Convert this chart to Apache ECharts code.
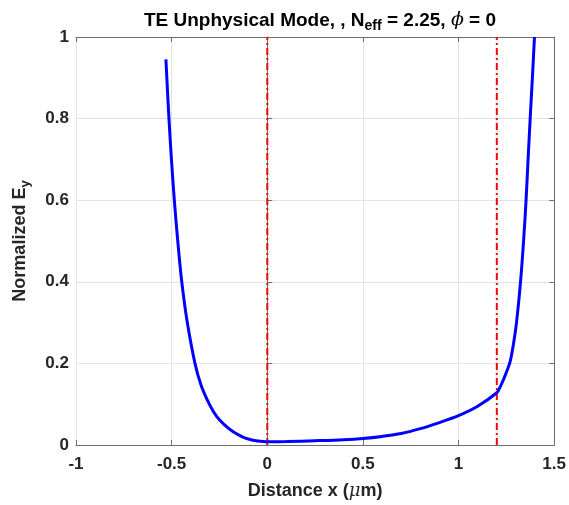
<!DOCTYPE html>
<html>
<head>
<meta charset="utf-8">
<script src="https://cdn.jsdelivr.net/npm/echarts@6/dist/echarts.min.js"></script>
<style>
  html, body { margin: 0; padding: 0; background: #fff; }
  #chart { width: 569px; height: 505px; }
</style>
</head>
<body>
<div id="chart"></div>
<script>
// field profile: x (um), normalized Ey
const xs = [
  -0.53, -0.514, -0.501, -0.486, -0.468, -0.447, -0.418, -0.378, -0.345, -0.303,
  -0.265, -0.225, -0.174, -0.13, -0.09, -0.05, -0.02, 0,
  0.1, 0.25, 0.4, 0.5, 0.6, 0.7, 0.8, 0.9, 1.0, 1.1, 1.2,
  1.215, 1.23, 1.25, 1.27, 1.288, 1.303, 1.324, 1.34, 1.353, 1.3635, 1.3745, 1.386, 1.397,
];
const ey = [
  0.945, 0.8, 0.7, 0.6, 0.5, 0.4, 0.3, 0.2, 0.145, 0.1,
  0.07, 0.05, 0.031, 0.02, 0.0135, 0.0100, 0.0085, 0.008,
  0.0085, 0.0105, 0.013, 0.016, 0.021, 0.028, 0.04, 0.055, 0.072, 0.095, 0.128,
  0.14, 0.155, 0.178, 0.205, 0.25, 0.3, 0.4, 0.5, 0.6, 0.7, 0.8, 0.9, 1.0,
];
// layer boundaries (red dash-dot markers)
const boundaries = [0, 1.2];

const xTicks = ['-1', '-0.5', '0', '0.5', '1', '1.5'];
const yTicks = ['0', '0.2', '0.4', '0.6', '0.8', '1'];

const FONT = '"Liberation Sans", Arial, Helvetica, sans-serif';
const TXT = '#262626';
const AXC = '#6e6e6e';

const chart = echarts.init(document.getElementById('chart'));

const curve = xs.map((x, i) => [x, ey[i]]);

const boxAxis = {
  axisLine: { show: true, onZero: false, lineStyle: { color: AXC, width: 1 } },
  axisTick: { show: true, inside: true, length: 5, lineStyle: { color: AXC } },
  axisLabel: { show: false },
  splitLine: { show: false },
};

chart.setOption({
  animation: false,
  title: {
    text: 'TE Unphysical Mode, , N{sub|eff} = 2.25, {phi|ϕ} = 0',
    left: 315,
    textAlign: 'center',
    top: 3,
    textStyle: {
      fontFamily: FONT,
      fontSize: 19,
      fontWeight: 'bold',
      color: '#000',
      rich: {
        sub: { fontFamily: FONT, fontSize: 14, fontWeight: 'bold', color: '#000', padding: [11, 0, 0, 0] },
        phi: { fontFamily: '"DejaVu Serif", serif', fontStyle: 'italic', fontWeight: 'normal', fontSize: 19, color: '#000' },
      },
    },
  },
  grid: { left: 76, right: 14, top: 37, bottom: 59 },
  xAxis: [
    {
      type: 'value',
      min: -1,
      max: 1.5,
      interval: 0.5,
      name: 'Distance x ({mu|μ}m)',
      nameLocation: 'middle',
      nameGap: 37,
      nameTextStyle: {
        fontFamily: FONT, fontSize: 18, fontWeight: 'bold', color: TXT,
        rich: { mu: { fontFamily: '"DejaVu Serif", serif', fontStyle: 'italic', fontWeight: 'normal', fontSize: 18, color: TXT } },
      },
      axisLine: { show: true, onZero: false, lineStyle: { color: AXC } },
      axisTick: { show: true, inside: true, length: 5, lineStyle: { color: AXC } },
      axisLabel: {
        fontFamily: FONT, fontSize: 17, fontWeight: 'bold', color: TXT, margin: 11,
        formatter: (v) => xTicks[Math.round((v + 1) / 0.5)],
      },
      splitLine: { show: true, lineStyle: { color: '#e3e3e3', width: 1 } },
    },
    Object.assign({ type: 'value', min: -1, max: 1.5, interval: 0.5, position: 'top' }, boxAxis),
  ],
  yAxis: [
    {
      type: 'value',
      min: 0,
      max: 1,
      interval: 0.2,
      name: 'Normalized E{sub|y}',
      nameLocation: 'middle',
      nameGap: 44,
      nameTextStyle: {
        fontFamily: FONT, fontSize: 18, fontWeight: 'bold', color: TXT,
        rich: { sub: { fontFamily: FONT, fontSize: 13, fontWeight: 'bold', color: TXT, padding: [11, 0, 0, 0] } },
      },
      axisLine: { show: true, lineStyle: { color: AXC } },
      axisTick: { show: true, inside: true, length: 5, lineStyle: { color: AXC } },
      axisLabel: {
        fontFamily: FONT, fontSize: 17, fontWeight: 'bold', color: TXT, margin: 7,
        formatter: (v) => yTicks[Math.round(v / 0.2)],
      },
      splitLine: { show: true, lineStyle: { color: '#e3e3e3', width: 1 } },
    },
    Object.assign({ type: 'value', min: 0, max: 1, interval: 0.2, position: 'right' }, boxAxis),
  ],
  series: [
    ...boundaries.map((b) => ({
      type: 'line',
      data: [[b, 0], [b, 1]],
      symbol: 'none',
      z: 3,
      lineStyle: { color: '#ff0000', width: 2, type: [7, 3, 2, 3] },
    })),
    {
      type: 'line',
      data: curve,
      symbol: 'none',
      smooth: 0.3,
      z: 4,
      lineStyle: { color: '#0000ff', width: 3 },
    },
  ],
});
</script>
</body>
</html>
